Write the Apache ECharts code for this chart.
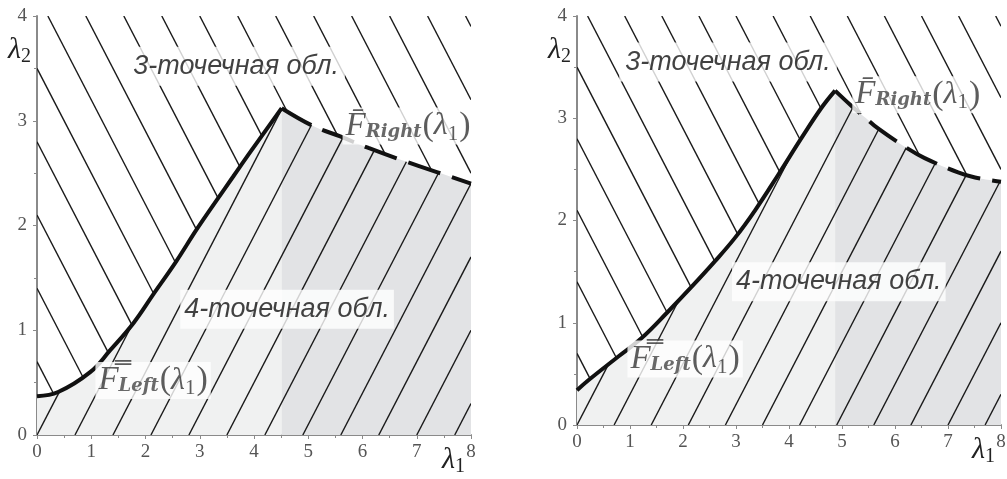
<!DOCTYPE html>
<html><head><meta charset="utf-8">
<script src="https://cdn.jsdelivr.net/npm/echarts@6/dist/echarts.min.js"></script>
<style>html,body{margin:0;padding:0;background:#fff}#c{width:1007px;height:479px}</style>
</head><body><div id="c"></div>
<script>
// ---- data ----
// Left panel
const leftFLeftX  = [0, 0.39, 0.98, 1.35, 1.78, 2.14, 2.57, 2.94, 3.31, 3.62, 3.93, 4.51];
const leftFLeftY  = [0.37, 0.41, 0.60, 0.81, 1.07, 1.34, 1.66, 1.96, 2.24, 2.47, 2.70, 3.12];
const leftFRightX = [4.51, 5.09, 5.59, 6.11, 6.69, 7.37, 8.0];
const leftFRightY = [3.12, 2.95, 2.85, 2.74, 2.63, 2.51, 2.40];
// Right panel
const rightFLeftX  = [0, 0.22, 0.78, 1.22, 1.72, 2.16, 2.60, 2.98, 3.36, 3.80, 4.24, 4.61, 4.87];
const rightFLeftY  = [0.34, 0.44, 0.67, 0.85, 1.11, 1.35, 1.60, 1.83, 2.10, 2.45, 2.81, 3.10, 3.27];
const rightFRightX = [4.87, 5.18, 5.43, 5.68, 6.25, 6.56, 7.19, 7.51, 8.0];
const rightFRightY = [3.27, 3.12, 3.01, 2.90, 2.70, 2.61, 2.47, 2.42, 2.38];
// hatch spacing (in data units)
const hatchStep = 0.7;
// tick labels
const xTickLabels = ['0','1','2','3','4','5','6','7','8'];
const yTickLabels = ['0','1','2','3','4'];
// annotation texts and anchor points [x, y]
const region3Text = '3-точечная обл.';
const region4Text = '4-точечная обл.';
const leftRegion3Pos = [3.67, 3.52];
const leftRegion4Pos = [4.61, 1.20];
const leftFLeftPos   = [2.14, 0.52];
const leftFRightPos  = [6.84, 2.95];
const rightRegion3Pos = [2.85, 3.55];
const rightRegion4Pos = [4.94, 1.40];
const rightFLeftPos   = [2.04, 0.645];
const rightFRightPos  = [6.43, 3.23];

// ---- helpers ----
const zip = (xs, ys) => xs.map((x, i) => [x, ys[i]]);
function interp(bx, by, x) {
  if (x <= bx[0]) return by[0];
  for (let i = 1; i < bx.length; i++) {
    if (x <= bx[i]) { const t = (x - bx[i-1]) / (bx[i] - bx[i-1]); return by[i-1] + t * (by[i] - by[i-1]); }
  }
  return by[by.length - 1];
}
function bisect(fn, a, b) { // fn(a) >= 0, fn(b) < 0
  for (let i = 0; i < 60; i++) { const m = (a + b) / 2; if (fn(m) >= 0) a = m; else b = m; }
  return (a + b) / 2;
}
function hatchSegments(Lx, Ly, Rx, Ry, xMax, yMax) {
  const bx = Lx.concat(Rx.slice(1)), by = Ly.concat(Ry.slice(1));
  const f = x => interp(bx, by, x);
  const segs = [];
  // "\" lines x + y = c above the boundary
  for (let k = 1; k * hatchStep <= xMax + yMax + 1e-9; k++) {
    const c = k * hatchStep;
    const xs = Math.max(0, c - yMax);
    const g = x => c - x - f(x);
    if (g(xs) < 0) continue;
    const xEnd = Math.min(xMax, c);
    const xe = g(xEnd) >= 0 ? xEnd : bisect(g, xs, xEnd);
    if (xe > xs) segs.push([xs, c - xs, xe, c - xe]);
  }
  // "/" lines y = x - d below the boundary
  for (let k = 0; k * hatchStep < xMax - 1e-9; k++) {
    const d = k * hatchStep;
    const h = x => f(x) - (x - d);
    const xe = h(xMax) >= 0 ? xMax : bisect(h, d, xMax);
    segs.push([d, 0, xe, xe - d]);
  }
  return segs;
}

const chart = echarts.init(document.getElementById('c'), null, {renderer: 'canvas'});

const axisColor = '#8a8a8a';
const nameRich = {
  l: {fontFamily: 'Liberation Serif', fontStyle: 'italic', fontSize: 30, color: '#222'},
  n: {fontFamily: 'Liberation Serif', fontSize: 20, color: '#222', padding: [14, 0, 0, 0]}
};
function xAxisCfg(gi) {
  return {
    gridIndex: gi, type: 'value', min: 0, max: 8, interval: 1,
    name: '{l|λ}{n|1}', nameLocation: 'end', nameGap: -29, nameMoveOverlap: false,
    nameTextStyle: { align: 'left', verticalAlign: 'top', padding: [8, 0, 0, 0], rich: nameRich },
    axisLine: { show: true, onZero: false, lineStyle: { color: axisColor, width: 2 } },
    axisTick: { show: true, length: 4, lineStyle: { color: axisColor } },
    minorTick: { show: true, splitNumber: 2, length: 3, lineStyle: { color: axisColor } },
    splitLine: { show: false },
    axisLabel: { show: true, showMinLabel: true, showMaxLabel: true, margin: 8, hideOverlap: false,
      fontFamily: 'Liberation Serif', fontSize: 19, color: '#555',
      formatter: v => xTickLabels[Math.round(v)] }
  };
}
function yAxisCfg(gi) {
  return {
    gridIndex: gi, type: 'value', min: 0, max: 4, interval: 1,
    name: '{l|λ}{n|2}', nameLocation: 'end', nameGap: -34, nameMoveOverlap: false,
    nameTextStyle: { align: 'right', verticalAlign: 'middle', padding: [0, 6, 0, 0], rich: nameRich },
    axisLine: { show: true, onZero: false, lineStyle: { color: axisColor, width: 2 } },
    axisTick: { show: true, length: 4, lineStyle: { color: axisColor } },
    minorTick: { show: true, splitNumber: 2, length: 3, lineStyle: { color: axisColor } },
    splitLine: { show: false },
    axisLabel: { show: true, showMinLabel: true, showMaxLabel: true, margin: 10, hideOverlap: false,
      fontFamily: 'Liberation Serif', fontSize: 19, color: '#555',
      formatter: v => yTickLabels[Math.round(v)] }
  };
}

const mathRich = {
  F: {fontFamily: 'Liberation Serif', fontStyle: 'italic', fontSize: 33, color: '#333'},
  s: {fontFamily: 'DejaVu Serif', fontStyle: 'italic', fontWeight: 'bold', fontSize: 18, color: '#444', padding: [12, 1, 0, 0]},
  p: {fontFamily: 'Liberation Serif', fontSize: 34, color: '#333'},
  l: {fontFamily: 'Liberation Serif', fontStyle: 'italic', fontSize: 32, color: '#333'},
  n: {fontFamily: 'Liberation Serif', fontSize: 21, color: '#333', padding: [16, 1, 0, 0]}
};
const regionStyle = { fontFamily: 'Liberation Sans', fontStyle: 'italic', fontSize: 27, color: '#111' };

function panelSeries(gi, Lx, Ly, Rx, Ry, pos) {
  const segs = hatchSegments(Lx, Ly, Rx, Ry, 8, 4);
  const base = { xAxisIndex: gi, yAxisIndex: gi, animation: false, silent: true };
  const labelSeries = (p, text, style, bg, pad) => Object.assign({}, base, {
    type: 'scatter', z: 10, symbolSize: 1, itemStyle: {color: 'rgba(0,0,0,0)'},
    data: [p],
    label: Object.assign({ show: true, position: 'inside', formatter: text,
      backgroundColor: bg, padding: pad }, style)
  });
  const sm = 0.4;
  return [
    Object.assign({}, base, { type: 'line', z: 1, data: zip(Lx, Ly), smooth: sm, symbol: 'none',
      lineStyle: {width: 0}, areaStyle: {color: '#f0f1f1', opacity: 1, origin: 'start'} }),
    Object.assign({}, base, { type: 'line', z: 1, data: zip(Rx, Ry), smooth: sm, symbol: 'none',
      lineStyle: {width: 0}, areaStyle: {color: '#e2e3e5', opacity: 1, origin: 'start'} }),
    Object.assign({}, base, { type: 'custom', z: 2, clip: true, data: segs,
      encode: {x: [0, 2], y: [1, 3]},
      renderItem: (params, api) => {
        const p1 = api.coord([api.value(0), api.value(1)]);
        const p2 = api.coord([api.value(2), api.value(3)]);
        return { type: 'line', shape: {x1: p1[0], y1: p1[1], x2: p2[0], y2: p2[1]},
          style: {stroke: '#1a1a1a', lineWidth: 1.4} };
      } }),
    Object.assign({}, base, { type: 'line', z: 3, data: zip(Lx, Ly), smooth: sm, symbol: 'none',
      lineStyle: {width: 4, color: '#111', cap: 'butt'} }),
    Object.assign({}, base, { type: 'line', z: 3, data: zip(Rx, Ry), smooth: sm, symbol: 'none',
      lineStyle: {width: 4, color: '#111', type: [34, 12], cap: 'butt'} }),
    labelSeries(pos.r3, region3Text, regionStyle, '#fff', [6, 6]),
    labelSeries(pos.r4, region4Text, regionStyle, '#fff', [6, 4]),
    labelSeries(pos.fl, '{F|F\u033F}{s|Left}{p|(}{l|λ}{n|1}{p|)}', {rich: mathRich}, '#fff', [0, 3]),
    labelSeries(pos.fr, '{F|F\u0304}{s|Right}{p|(}{l|λ}{n|1}{p|)}', {rich: mathRich}, '#fff', [0, 3])
  ];
}

const option = {
  animation: false,
  backgroundColor: '#fff',
  grid: [
    { left: 37, top: 16, width: 434, height: 419, containLabel: false, outerBoundsMode: 'none' },
    { left: 577, top: 16, width: 424, height: 409, containLabel: false, outerBoundsMode: 'none' }
  ],
  xAxis: [xAxisCfg(0), xAxisCfg(1)],
  yAxis: [yAxisCfg(0), yAxisCfg(1)],
  series: [].concat(
    panelSeries(0, leftFLeftX, leftFLeftY, leftFRightX, leftFRightY,
      {r3: leftRegion3Pos, r4: leftRegion4Pos, fl: leftFLeftPos, fr: leftFRightPos}),
    panelSeries(1, rightFLeftX, rightFLeftY, rightFRightX, rightFRightY,
      {r3: rightRegion3Pos, r4: rightRegion4Pos, fl: rightFLeftPos, fr: rightFRightPos})
  )
};
chart.setOption(option);
</script></body></html>
